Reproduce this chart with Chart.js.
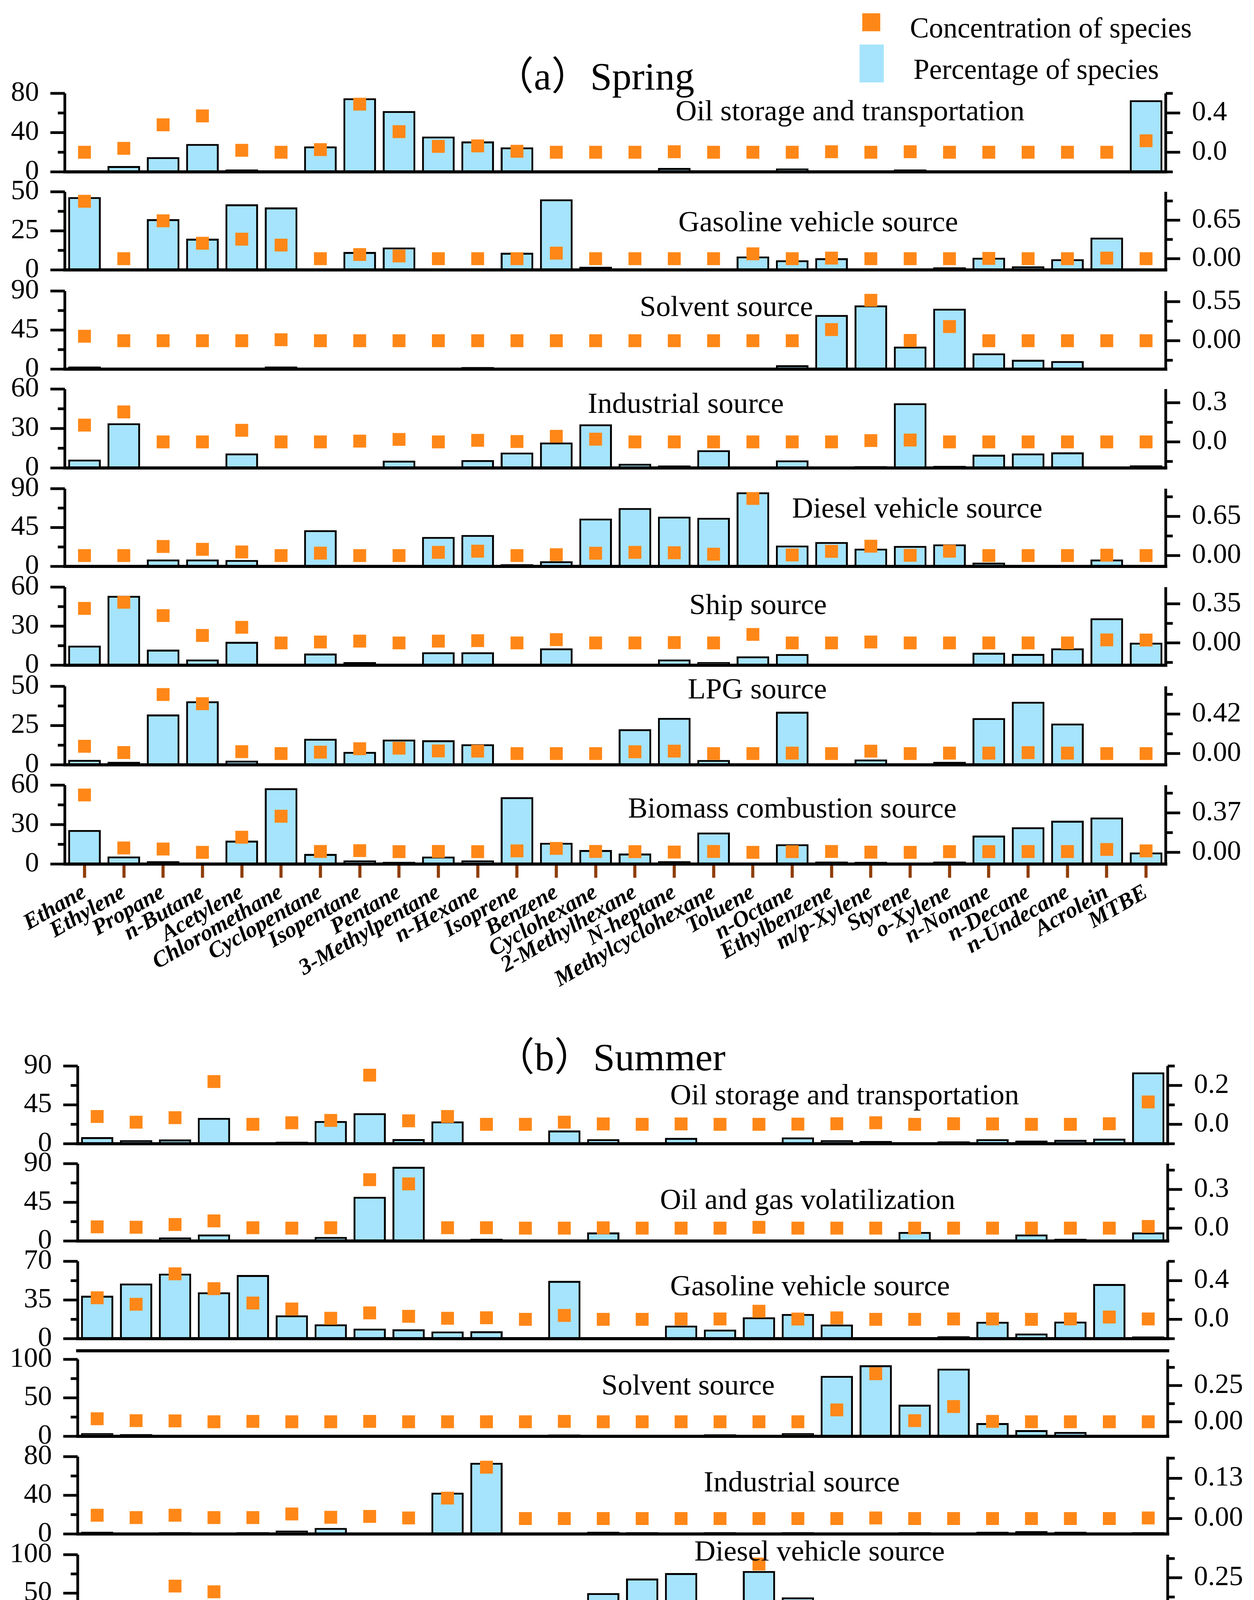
<!DOCTYPE html>
<html>
<head>
<meta charset="utf-8">
<script src="https://cdn.jsdelivr.net/npm/chart.js@4.4.1/dist/chart.umd.min.js"></script>
<style>
  html, body { margin: 0; padding: 0; background: #fff; }
  #page { position: relative; width: 3211px; height: 4997px; overflow: hidden; background: #fff; }
  .panel { position: absolute; left: 0; }
  #overlay { position: absolute; left: 0; top: 0; }
</style>
</head>
<body>
<div id="page"></div>
<script>
const species = ['Ethane', 'Ethylene', 'Propane', 'n-Butane', 'Acetylene', 'Chloromethane', 'Cyclopentane',
  'Isopentane', 'Pentane', '3-Methylpentane', 'n-Hexane', 'Isoprene', 'Benzene', 'Cyclohexane',
  '2-Methylhexane', 'N-heptane', 'Methylcyclohexane', 'Toluene', 'n-Octane', 'Ethylbenzene',
  'm/p-Xylene', 'Styrene', 'o-Xylene', 'n-Nonane', 'n-Decane', 'n-Undecane', 'Acrolein', 'MTBE'];

// (a) Spring: percentage of species (%) and concentration of species, per source
const spOilPct = [0, 6, 15, 28.5, 2.5, 0, 26, 75, 62, 36, 31, 25, 1.5, 0, 0, 4, 0, 0, 3.5, 1.5, 0, 2.5, 0, 0, 0, 0, 0, 73];
const spOilConc = [0, 0.04, 0.28, 0.37, 0.02, 0, 0.027, 0.49, 0.21, 0.06, 0.065, 0.01, 0, 0, 0, 0.005, 0, 0, 0, 0.005, 0, 0.005, 0, 0, 0, 0, 0, 0.117];
const spGasPct = [46.6, 0, 32.5, 20, 42, 40, 0, 11.5, 14.4, 0, 0, 11, 45.2, 2, 0, 1, 0, 8.6, 6.2, 7.5, 0, 0, 1.7, 7.8, 2.3, 6.9, 20.7, 0];
const spGasConc = [0.97, 0, 0.64, 0.26, 0.33, 0.23, 0, 0.07, 0.045, 0, 0, 0, 0.094, 0, 0, 0, 0, 0.082, 0, 0.01, 0, 0, 0, 0.005, 0, 0, 0.01, 0];
const spSolPct = [3, 0, 0, 0, 0, 3, 0, 0, 0, 0, 2.5, 0, 0, 0, 0, 0, 1.5, 0, 4.5, 62.4, 73.5, 26, 69.6, 18.2, 10.8, 9.3, 0, 0];
const spSolConc = [0.063, 0, 0, 0, 0, 0.014, 0, 0, 0, 0, 0, 0, 0, 0, 0, 0, 0, 0, 0, 0.157, 0.57, 0.004, 0.2, 0, 0, 0, 0, 0];
const spIndPct = [6.4, 34, 0, 0, 11.1, 0, 0, 1, 5.6, 0, 6, 11.7, 19.4, 33.2, 3.2, 1.9, 13.5, 0, 5.8, 0, 1.4, 49.2, 1.6, 10.1, 11.1, 11.9, 0, 2];
const spIndConc = [0.129, 0.23, 0, 0, 0.089, 0, 0, 0.006, 0.019, 0, 0.012, 0.003, 0.043, 0.021, 0, 0, 0, 0, 0, 0, 0.01, 0.014, 0, 0, 0, 0, 0, 0];
const spDieselPct = [0, 0, 8, 8, 7.5, 0, 41.9, 0, 0, 34.2, 36.4, 2.6, 6, 55.4, 67.6, 57.7, 56.3, 85.8, 24.2, 28.3, 20.6, 23.8, 25.5, 4.4, 0, 0, 8, 0];
const spDieselConc = [0, 0, 0.15, 0.103, 0.06, 0, 0.041, 0, 0, 0.054, 0.073, 0, 0.014, 0.039, 0.054, 0.047, 0.022, 0.947, 0.009, 0.07, 0.156, 0.004, 0.073, 0, 0, 0, 0.006, 0];
const spShipPct = [15.1, 53.3, 12, 4.4, 18, 0, 9, 2.4, 0, 10, 10, 0, 13, 0, 0, 4.4, 2.5, 6.8, 8.6, 0.8, 1.1, 0, 0, 9.6, 8.7, 13, 36.1, 17.3];
const spShipConc = [0.309, 0.364, 0.245, 0.067, 0.14, 0, 0.008, 0.016, 0, 0.016, 0.02, 0, 0.029, 0, 0, 0.003, 0, 0.076, 0, 0, 0.008, 0, 0, 0, 0, 0, 0.027, 0.026];
const spLpgPct = [3.2, 1.9, 32.1, 40.5, 2.7, 0, 16.6, 8.3, 16.1, 15.7, 13.1, 0, 0, 0, 22.7, 29.9, 3.1, 0, 33.8, 0, 3.4, 0, 1.9, 29.8, 40.2, 26.3, 0, 0];
const spLpgConc = [0.077, 0.011, 0.628, 0.53, 0.02, 0, 0.015, 0.051, 0.057, 0.028, 0.026, 0, 0, 0, 0.019, 0.026, 0, 0, 0.005, 0, 0.026, 0, 0.005, 0.005, 0.01, 0.005, 0, 0];
const spBioPct = [25.9, 5.8, 2.2, 0, 17.8, 57.7, 7.7, 2.8, 1.7, 5.7, 2.8, 50.9, 16.2, 10.7, 8, 2.2, 24, 0, 15.1, 1.9, 1.7, 0, 1.9, 21.7, 28, 33, 35.4, 8.8];
const spBioConc = [0.538, 0.041, 0.031, 0, 0.142, 0.339, 0.008, 0.016, 0.006, 0.008, 0.006, 0.014, 0.037, 0.008, 0.006, 0.003, 0.008, 0, 0.006, 0.008, 0.002, 0, 0.006, 0.006, 0.007, 0.007, 0.027, 0.014];

// (b) Summer
const suOilPct = [7.7, 4.1, 5, 30, 0, 2.4, 26.3, 35.4, 5.4, 25.9, 0, 0, 15.4, 5.3, 0, 6.8, 0, 0, 7.3, 4.1, 3.2, 0, 2.7, 5.3, 3.6, 4.5, 5.9, 82.6];
const suOilConc = [0.04, 0.011, 0.034, 0.22, 0, 0.008, 0.02, 0.253, 0.018, 0.04, 0, 0, 0.011, 0.002, 0, 0.002, 0, 0, 0.001, 0.003, 0.008, 0, 0.003, 0.002, 0, 0, 0.003, 0.115];
const suVolPct = [1.8, 2.1, 4.1, 7.6, 1.8, 0, 4.8, 51.5, 86.4, 1.8, 2.6, 0, 1.8, 10, 0, 0, 0, 1.8, 0, 1.4, 0, 10.6, 0, 0, 7.6, 2.6, 0, 10];
const suVolConc = [0.01, 0.007, 0.028, 0.056, 0.003, 0, 0.003, 0.376, 0.343, 0.003, 0.003, 0, 0, 0.002, 0, 0, 0, 0.006, 0, 0, 0, 0, 0, 0, 0, 0, 0, 0.013];
const suGasPct = [38.9, 49.9, 58.9, 42, 57.6, 21.1, 13, 9.1, 8.5, 6.5, 6.7, 0, 52.3, 0, 0, 11.8, 8.2, 19.4, 22.4, 12.8, 0, 0, 2.2, 15.3, 4.7, 15.5, 49.5, 2];
const suGasConc = [0.223, 0.156, 0.471, 0.317, 0.169, 0.107, 0.011, 0.067, 0.031, 0.011, 0.016, 0, 0.04, 0, 0, 0.004, 0.004, 0.084, 0.003, 0.015, 0, 0, 0.004, 0.004, 0, 0.004, 0.024, 0.004];
const suSolPct = [4.2, 2.9, 0, 0, 2, 0, 0, 0, 0, 0, 0, 0, 2.4, 0, 0, 2, 2.7, 0, 4.2, 78.5, 92.4, 41.1, 87.9, 17.2, 8.1, 5.7, 0, 0];
const suSolConc = [0.021, 0.008, 0.006, 0, 0.003, 0, 0, 0.003, 0, 0, 0, 0, 0.003, 0, 0, 0, 0, 0, 0, 0.082, 0.331, 0.008, 0.105, 0.003, 0, 0, 0, 0];
const suIndPct = [2.3, 1.6, 1.9, 0, 1.9, 3.5, 6.3, 1.6, 0, 42.7, 73.6, 0, 0, 2.3, 1.9, 0, 1.9, 0, 1.9, 0, 0, 1.9, 0, 2.3, 3, 2.3, 0, 1.9];
const suIndConc = [0.0105, 0.003, 0.0105, 0.003, 0.003, 0.0147, 0.004, 0.0067, 0.0017, 0.066, 0.166, 0, 0, 0, 0, 0, 0, 0, 0, 0, 0.0017, 0, 0, 0, 0, 0, 0, 0.0017];
const suDieselPct = [2, 18, 24.3, 20.6, 8.4, 0, 40.5, 0, 0, 20.6, 17.5, 0, 5.4, 50.1, 69, 76.2, 32.4, 78.8, 44.5, 0, 3.4, 37.9, 3.4, 29.3, 29, 24.3, 0, 0];
const suDieselConc = [0.01, 0.058, 0.196, 0.159, 0.025, 0, 0.032, 0.008, 0, 0.035, 0.04, 0.004, 0.006, 0.018, 0.025, 0.024, 0.008, 0.339, 0.004, 0, 0.013, 0.008, 0.006, 0.004, 0.004, 0.002, 0, 0];
const suShipPct = [42.3, 19.7, 7.7, 0, 27.1, 66.4, 10.1, 3.1, 0, 4.4, 0, 0, 23.8, 32.6, 27.5, 5, 49.5, 0, 21.5, 3.6, 0, 9, 3.4, 31.8, 46, 46.7, 36.2, 5.6];
const suShipConc = [0.24, 0.061, 0.055, 0, 0.077, 0.332, 0.006, 0.014, 0, 0.006, 0, 0, 0.017, 0.01, 0.008, 0, 0.01, 0, 0.002, 0.002, 0, 0.002, 0.003, 0.003, 0.003, 0.003, 0.014, 0.006];
const suPlantPct = [3.5, 3.5, 0, 0, 3.5, 8.1, 0.8, 0, 0, 0, 0, 72, 0.8, 1.2, 2.4, 0, 6.5, 0, 0.5, 2.1, 0.8, 0, 1.2, 0, 0, 0.5, 8.9, 0];
const suPlantConc = [0.019, 0.009, 0.003, 0.003, 0.011, 0.043, 0, 0, 0, 0, 0, 0.23, 0, 0.003, 0, 0, 0, 0, 0, 0.003, 0.005, 0, 0, 0, 0, 0, 0.005, 0];

const BAR_BLUE = '#A5E4FC';
const ORANGE = '#FF8717';
const TICK_BROWN = '#8E3D06';
const SERIF = "'Liberation Serif', 'Times New Roman', serif";
const PAD_TOP = 130;   // room above the plot box (tick label padding counts here in Chart.js)
const PAD_BOTTOM = 130;

// layout of each panel (plot box in page pixels, axis ranges, label spot)
const panels = [
  { name: 'Oil storage and transportation', pct: spOilPct, conc: spOilConc, top: 239, bottom: 440, left: 166, right: 2985, yMax: 80, rMin: -0.2, rMax: 0.6, rLabels: ['0.0', '0.4'], tx: 1730, ty: 308 },
  { name: 'Gasoline vehicle source', pct: spGasPct, conc: spGasConc, top: 491, bottom: 691, left: 166, right: 2985, yMax: 50, rMin: -0.19, rMax: 1.13, rLabels: ['0.00', '0.65'], tx: 1737, ty: 592 },
  { name: 'Solvent source', pct: spSolPct, conc: spSolConc, top: 745, bottom: 945, left: 166, right: 2985, yMax: 90, rMin: -0.4, rMax: 0.7, rLabels: ['0.00', '0.55'], tx: 1638, ty: 809 },
  { name: 'Industrial source', pct: spIndPct, conc: spIndConc, top: 996, bottom: 1198, left: 166, right: 2985, yMax: 60, rMin: -0.2, rMax: 0.405, rLabels: ['0.0', '0.3'], tx: 1505, ty: 1057 },
  { name: 'Diesel vehicle source', pct: spDieselPct, conc: spDieselConc, top: 1251, bottom: 1450, left: 166, right: 2985, yMax: 90, rMin: -0.18, rMax: 1.11, rLabels: ['0.00', '0.65'], tx: 2028, ty: 1325 },
  { name: 'Ship source', pct: spShipPct, conc: spShipConc, top: 1503, bottom: 1703, left: 166, right: 2985, yMax: 60, rMin: -0.2, rMax: 0.5, rLabels: ['0.00', '0.35'], tx: 1765, ty: 1572 },
  { name: 'LPG source', pct: spLpgPct, conc: spLpgConc, top: 1757, bottom: 1958, left: 166, right: 2985, yMax: 50, rMin: -0.12, rMax: 0.715, rLabels: ['0.00', '0.42'], tx: 1761, ty: 1788 },
  { name: 'Biomass combustion source', pct: spBioPct, conc: spBioConc, top: 2010, bottom: 2212, left: 166, right: 2985, yMax: 60, rMin: -0.11, rMax: 0.63, rLabels: ['0.00', '0.37'], tx: 1608, ty: 2093, axisLabels: true },

  { name: 'Oil storage and transportation', pct: suOilPct, conc: suOilConc, top: 2729, bottom: 2928, left: 199, right: 2990, yMax: 90, rMin: -0.1, rMax: 0.3, rLabels: ['0.0', '0.2'], tx: 1716, ty: 2827 },
  { name: 'Oil and gas volatilization', pct: suVolPct, conc: suVolConc, top: 2979, bottom: 3177, left: 199, right: 2990, yMax: 90, rMin: -0.1, rMax: 0.5, rLabels: ['0.0', '0.3'], tx: 1690, ty: 3095 },
  { name: 'Gasoline vehicle source', pct: suGasPct, conc: suGasConc, top: 3229, bottom: 3427, left: 199, right: 2990, yMax: 70, rMin: -0.2, rMax: 0.6, rLabels: ['0.0', '0.4'], tx: 1716, ty: 3316 },
  { name: 'Solvent source', pct: suSolPct, conc: suSolConc, top: 3480, bottom: 3677, left: 199, right: 2990, yMax: 100, rMin: -0.1, rMax: 0.43, rLabels: ['0.00', '0.25'], tx: 1540, ty: 3570, rule: 22 },
  { name: 'Industrial source', pct: suIndPct, conc: suIndConc, top: 3729, bottom: 3927, left: 199, right: 2990, yMax: 80, rMin: -0.05, rMax: 0.2, rLabels: ['0.00', '0.13'], tx: 1802, ty: 3818 },
  { name: 'Diesel vehicle source', pct: suDieselPct, conc: suDieselConc, top: 3980, bottom: 4177, left: 199, right: 2990, yMax: 100, rMin: -0.1, rMax: 0.4, rLabels: ['0.00', '0.25'], tx: 1778, ty: 3995 },
  { name: 'Ship source', pct: suShipPct, conc: suShipConc, top: 4230, bottom: 4428, left: 199, right: 2990, yMax: 80, rMin: -0.1, rMax: 0.4, rLabels: ['0.00', '0.25'], tx: 1802, ty: 4277 },
  { name: 'Plant source', pct: suPlantPct, conc: suPlantConc, top: 4480, bottom: 4678, left: 199, right: 2990, yMax: 70, rMin: -0.1, rMax: 0.3, rLabels: ['0.0', '0.2'], tx: 1778, ty: 4575, axisLabels: true }
];

// Origin-like axes: black spines on top of the bars, long major / short minor ticks
const originAxes = {
  id: 'originAxes',
  afterDraw(chart, args, opts) {
    const { ctx, chartArea: a, scales } = chart;
    const seg = (x1, y1, x2, y2) => { ctx.beginPath(); ctx.moveTo(x1, y1); ctx.lineTo(x2, y2); ctx.stroke(); };
    ctx.save();
    ctx.strokeStyle = '#000';
    ctx.lineCap = 'butt';
    ctx.lineWidth = 7;
    const y = scales.y;
    for (let k = 0; k <= 4; k++) {
      const py = y.getPixelForValue(y.max * k / 4);
      seg(a.left - (k % 2 === 0 ? 37 : 18), py, a.left, py);
    }
    const y1 = scales.y1;
    const half = opts.step / 2;
    for (let k = Math.ceil(y1.min / half - 1e-6); k * half <= y1.max + 1e-6; k++) {
      const py = y1.getPixelForValue(k * half);
      seg(a.right, py, a.right + (k % 2 === 0 ? 37 : 18), py);
    }
    seg(a.left, a.top, a.left, a.bottom);
    seg(a.right, a.top, a.right, a.bottom);
    ctx.lineWidth = 8;
    seg(a.left - 4, a.bottom, a.right + 4, a.bottom);
    if (opts.rule) seg(a.left - 4, a.top - opts.rule, a.right + 4, a.top - opts.rule);
    ctx.restore();
  }
};

const page = document.getElementById('page');

panels.forEach(p => {
  const xH = p.axisLabels ? 330 : PAD_BOTTOM;
  const height = PAD_TOP + (p.bottom - p.top) + xH;
  const wrap = document.createElement('div');
  wrap.className = 'panel';
  wrap.style.top = (p.top - PAD_TOP) + 'px';
  const canvas = document.createElement('canvas');
  canvas.width = 3211;
  canvas.height = height;
  canvas.style.width = '3211px';
  canvas.style.height = height + 'px';
  wrap.appendChild(canvas);
  page.appendChild(wrap);

  const leftTicks = [0, p.yMax / 2, p.yMax];
  const rightTicks = p.rLabels.map(Number);

  new Chart(canvas, {
    type: 'bar',
    data: {
      labels: species,
      datasets: [
        {
          type: 'line', label: 'Concentration of species', data: p.conc, yAxisID: 'y1',
          showLine: false, pointStyle: 'rect', pointRadius: 23.3, pointHoverRadius: 23.3,
          pointBackgroundColor: ORANGE, pointBorderWidth: 0, borderColor: ORANGE,
          clip: false, order: 0
        },
        {
          type: 'bar', label: 'Percentage of species', data: p.pct, yAxisID: 'y',
          backgroundColor: BAR_BLUE, borderColor: '#000', borderWidth: 5,
          barPercentage: 0.83, categoryPercentage: 1, clip: 0, order: 1
        }
      ]
    },
    options: {
      responsive: false,
      animation: false,
      devicePixelRatio: 1,
      events: [],
      layout: { padding: { top: PAD_TOP, left: 0, right: 0, bottom: 0 } },
      plugins: {
        legend: { display: false },
        tooltip: { enabled: false },
        originAxes: { step: rightTicks[1], rule: p.rule || 0 }
      },
      scales: {
        x: {
          offset: true,
          grid: { display: !!p.axisLabels, drawOnChartArea: false, drawTicks: !!p.axisLabels, offset: false,
                  tickLength: 35, tickWidth: 8, tickColor: TICK_BROWN },
          border: { display: false },
          ticks: { display: !!p.axisLabels, autoSkip: false, minRotation: 30, maxRotation: 30, padding: 4,
                   color: '#000', font: { family: SERIF, size: 58, style: 'italic', weight: 'bold' } },
          afterFit: s => { s.height = xH; }
        },
        y: {
          position: 'left', min: 0, max: p.yMax,
          grid: { display: false, drawTicks: false },
          border: { display: false },
          afterBuildTicks: s => { s.ticks = leftTicks.map(v => ({ value: v })); },
          ticks: { autoSkip: false, padding: 66, color: '#000', font: { family: SERIF, size: 72 }, callback: v => String(v) },
          afterFit: s => { s.width = p.left; }
        },
        y1: {
          position: 'right', min: p.rMin, max: p.rMax,
          grid: { display: false, drawTicks: false },
          border: { display: false },
          afterBuildTicks: s => { s.ticks = rightTicks.map(v => ({ value: v })); },
          ticks: { autoSkip: false, padding: 67, color: '#000', font: { family: SERIF, size: 72 }, callback: (v, i) => p.rLabels[i] },
          afterFit: s => { s.width = 3211 - p.right; }
        }
      }
    },
    plugins: [originAxes]
  });
});

// titles, legend and panel names as SVG text on top
const NS = 'http://www.w3.org/2000/svg';
const svg = document.createElementNS(NS, 'svg');
svg.setAttribute('id', 'overlay');
svg.setAttribute('width', '3211');
svg.setAttribute('height', '4997');
page.appendChild(svg);

function addText(str, x, y, size) {
  const t = document.createElementNS(NS, 'text');
  t.setAttribute('x', x);
  t.setAttribute('y', y);
  t.setAttribute('font-family', "'Liberation Serif', 'Times New Roman', 'Noto Sans CJK SC', serif");
  t.setAttribute('font-size', size);
  t.setAttribute('fill', '#000');
  t.textContent = str;
  svg.appendChild(t);
}
function addRect(x, y, w, h, fill) {
  const r = document.createElementNS(NS, 'rect');
  r.setAttribute('x', x); r.setAttribute('y', y);
  r.setAttribute('width', w); r.setAttribute('height', h);
  r.setAttribute('fill', fill);
  svg.appendChild(r);
}

addRect(2208, 34, 46, 46, ORANGE);
addRect(2201, 114, 62, 97, BAR_BLUE);
addText('Concentration of species', 2330, 96, 73);
addText('Percentage of species', 2339, 202, 73);
addText('（a）Spring', 1267, 229, 100);
addText('（b）Summer', 1269, 2740, 100);
panels.forEach(p => addText(p.name, p.tx, p.ty, 75));
</script>
</body>
</html>
